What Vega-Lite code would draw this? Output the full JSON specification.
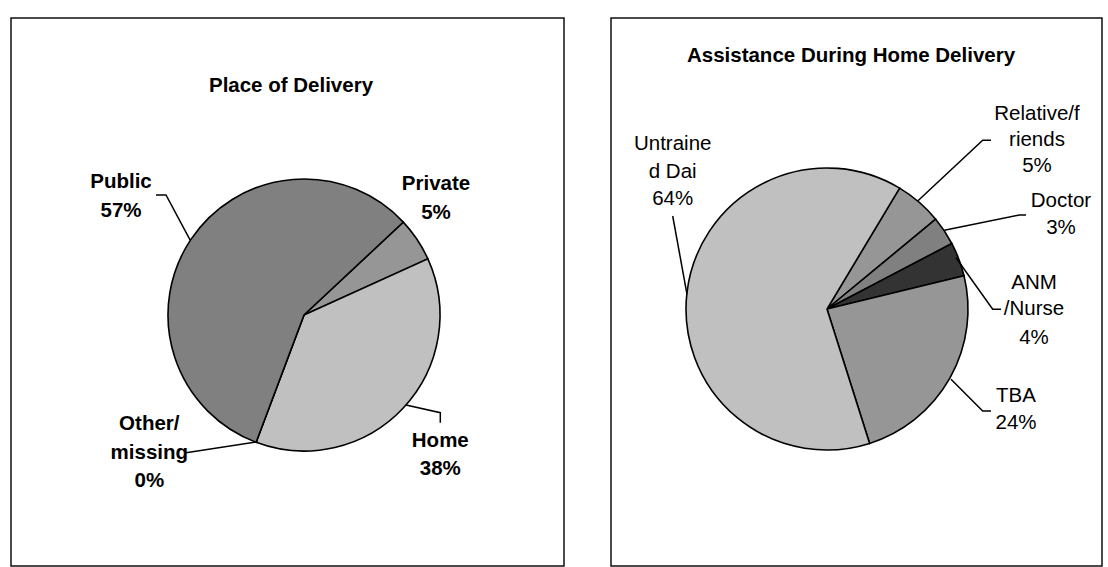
{
  "$schema": "https://vega.github.io/schema/vega-lite/v6.json",
  "padding": {"left": 10, "top": 17, "right": 0, "bottom": 0},
  "background": "white",
  "spacing": 14,
  "bounds": "flush",
  "config": {"view": {"stroke": null}},
  "datasets": {
    "place": [
      {"place": "Private", "pct": 5.2, "k": 1},
      {"place": "Home", "pct": 37.5, "k": 2},
      {"place": "Other/missing", "pct": 0, "k": 3},
      {"place": "Public", "pct": 57.3, "k": 4}
    ],
    "assist": [
      {"who": "Relative/friends", "pct": 5.4, "k": 1},
      {"who": "Doctor", "pct": 3.3, "k": 2},
      {"who": "ANM/Nurse", "pct": 3.9, "k": 3},
      {"who": "TBA", "pct": 23.9, "k": 4},
      {"who": "Untrained Dai", "pct": 63.5, "k": 5}
    ],
    "labL": [
      {"t": "Place of Delivery", "x": 280, "y": 68},
      {"t": "Public", "x": 110, "y": 163.7},
      {"t": "57%", "x": 110, "y": 193},
      {"t": "Private", "x": 425, "y": 166.3},
      {"t": "5%", "x": 425, "y": 194.7},
      {"t": "Other/", "x": 138.3, "y": 406.3},
      {"t": "missing", "x": 138.3, "y": 434.7},
      {"t": "0%", "x": 138.3, "y": 463},
      {"t": "Home", "x": 429.3, "y": 423},
      {"t": "38%", "x": 429.3, "y": 451.3}
    ],
    "titleR": [
      {"t": "Assistance During Home Delivery", "x": 240, "y": 38}
    ],
    "labR": [
      {"t": "Relative/f", "x": 426, "y": 96.3},
      {"t": "riends", "x": 426, "y": 122.3},
      {"t": "5%", "x": 426, "y": 148},
      {"t": "Doctor", "x": 450, "y": 183},
      {"t": "3%", "x": 450, "y": 209.7},
      {"t": "ANM", "x": 423, "y": 264.7},
      {"t": "/Nurse", "x": 423, "y": 291.3},
      {"t": "4%", "x": 423, "y": 319.7},
      {"t": "TBA", "x": 405, "y": 378},
      {"t": "24%", "x": 405, "y": 404.7},
      {"t": "Untraine", "x": 61.7, "y": 126},
      {"t": "d Dai", "x": 61.7, "y": 153.7},
      {"t": "64%", "x": 61.7, "y": 181.3}
    ],
    "lnL": [
      {"g": "a", "o": 1, "x": 145, "y": 177},
      {"g": "a", "o": 2, "x": 155, "y": 177},
      {"g": "a", "o": 3, "x": 179.3, "y": 222.3},
      {"g": "b", "o": 1, "x": 395, "y": 387},
      {"g": "b", "o": 2, "x": 429.3, "y": 394.7},
      {"g": "b", "o": 3, "x": 429.3, "y": 404.7},
      {"g": "c", "o": 1, "x": 175, "y": 434.7},
      {"g": "c", "o": 2, "x": 246.7, "y": 423.7}
    ],
    "lnR": [
      {"g": "u", "o": 1, "x": 61.7, "y": 198},
      {"g": "u", "o": 2, "x": 76, "y": 276.3},
      {"g": "r", "o": 1, "x": 306.7, "y": 183},
      {"g": "r", "o": 2, "x": 371.7, "y": 122.3},
      {"g": "r", "o": 3, "x": 380, "y": 122.3},
      {"g": "d", "o": 1, "x": 333.3, "y": 212.3},
      {"g": "d", "o": 2, "x": 408.3, "y": 197},
      {"g": "d", "o": 3, "x": 415, "y": 197},
      {"g": "n", "o": 1, "x": 345, "y": 239.7},
      {"g": "n", "o": 2, "x": 381.7, "y": 291.3},
      {"g": "n", "o": 3, "x": 390, "y": 291.3},
      {"g": "t", "o": 1, "x": 340, "y": 361.3},
      {"g": "t", "o": 2, "x": 371.7, "y": 393},
      {"g": "t", "o": 3, "x": 380, "y": 393}
    ]
  },
  "hconcat": [
    {
      "width": 586,
      "height": 594,
      "layer": [
        {
          "data": {"values": [{}]},
          "mark": {"type": "rect", "fill": null, "stroke": "#111", "strokeWidth": 1.5},
          "encoding": {
            "x": {"datum": 0, "type": "quantitative", "scale": {"domain": [0, 586], "nice": false, "zero": false}, "axis": null},
            "x2": {"datum": 553},
            "y": {"datum": 0, "type": "quantitative", "scale": {"domain": [0, 594], "nice": false, "zero": false, "reverse": true}, "axis": null},
            "y2": {"datum": 548}
          }
        },
        {
          "data": {"name": "place"},
          "mark": {"type": "arc", "outerRadius": 136, "stroke": "#000", "strokeWidth": 1.6},
          "encoding": {
            "theta": {"field": "pct", "type": "quantitative", "stack": true, "scale": {"domain": [0, 100], "range": [0.8186, 7.1018]}},
            "order": {"field": "k", "type": "quantitative"},
            "color": {"field": "place", "type": "nominal", "legend": null,
              "scale": {"domain": ["Private", "Home", "Other/missing", "Public"], "range": ["#969696", "#c0c0c0", "#ffffff", "#808080"]}}
          }
        },
        {
          "data": {"name": "lnL"},
          "mark": {"type": "line", "color": "#000", "strokeWidth": 1.5},
          "encoding": {
            "x": {"field": "x", "type": "quantitative", "scale": {"domain": [0, 586], "nice": false, "zero": false}, "axis": null},
            "y": {"field": "y", "type": "quantitative", "scale": {"domain": [0, 594], "nice": false, "zero": false, "reverse": true}, "axis": null},
            "detail": {"field": "g", "type": "nominal"},
            "order": {"field": "o", "type": "quantitative"}
          }
        },
        {
          "data": {"name": "labL"},
          "mark": {"type": "text", "font": "Liberation Sans", "fontSize": 20.5, "fontWeight": "bold", "align": "center", "baseline": "middle", "color": "#000"},
          "encoding": {
            "x": {"field": "x", "type": "quantitative", "scale": {"domain": [0, 586], "nice": false, "zero": false}, "axis": null},
            "y": {"field": "y", "type": "quantitative", "scale": {"domain": [0, 594], "nice": false, "zero": false, "reverse": true}, "axis": null},
            "text": {"field": "t", "type": "nominal"}
          }
        }
      ]
    },
    {
      "width": 432,
      "height": 582,
      "layer": [
        {
          "data": {"values": [{}]},
          "mark": {"type": "rect", "fill": null, "stroke": "#111", "strokeWidth": 1.5},
          "encoding": {
            "x": {"datum": 0, "type": "quantitative", "scale": {"domain": [0, 432], "nice": false, "zero": false}, "axis": null},
            "x2": {"datum": 491},
            "y": {"datum": 0, "type": "quantitative", "scale": {"domain": [0, 582], "nice": false, "zero": false, "reverse": true}, "axis": null},
            "y2": {"datum": 548}
          }
        },
        {
          "data": {"name": "assist"},
          "mark": {"type": "arc", "outerRadius": 141, "stroke": "#000", "strokeWidth": 1.6},
          "encoding": {
            "theta": {"field": "pct", "type": "quantitative", "stack": true, "scale": {"domain": [0, 100], "range": [0.5411, 6.8243]}},
            "order": {"field": "k", "type": "quantitative"},
            "color": {"field": "who", "type": "nominal", "legend": null,
              "scale": {"domain": ["Relative/friends", "Doctor", "ANM/Nurse", "TBA", "Untrained Dai"], "range": ["#969696", "#808080", "#333333", "#969696", "#c0c0c0"]}}
          }
        },
        {
          "data": {"name": "lnR"},
          "mark": {"type": "line", "color": "#000", "strokeWidth": 1.5},
          "encoding": {
            "x": {"field": "x", "type": "quantitative", "scale": {"domain": [0, 432], "nice": false, "zero": false}, "axis": null},
            "y": {"field": "y", "type": "quantitative", "scale": {"domain": [0, 582], "nice": false, "zero": false, "reverse": true}, "axis": null},
            "detail": {"field": "g", "type": "nominal"},
            "order": {"field": "o", "type": "quantitative"}
          }
        },
        {
          "data": {"name": "titleR"},
          "mark": {"type": "text", "font": "Liberation Sans", "fontSize": 20.5, "fontWeight": "bold", "align": "center", "baseline": "middle", "color": "#000"},
          "encoding": {
            "x": {"field": "x", "type": "quantitative", "scale": {"domain": [0, 432], "nice": false, "zero": false}, "axis": null},
            "y": {"field": "y", "type": "quantitative", "scale": {"domain": [0, 582], "nice": false, "zero": false, "reverse": true}, "axis": null},
            "text": {"field": "t", "type": "nominal"}
          }
        },
        {
          "data": {"name": "labR"},
          "mark": {"type": "text", "font": "Liberation Sans", "fontSize": 20.5, "align": "center", "baseline": "middle", "color": "#000"},
          "encoding": {
            "x": {"field": "x", "type": "quantitative", "scale": {"domain": [0, 432], "nice": false, "zero": false}, "axis": null},
            "y": {"field": "y", "type": "quantitative", "scale": {"domain": [0, 582], "nice": false, "zero": false, "reverse": true}, "axis": null},
            "text": {"field": "t", "type": "nominal"}
          }
        }
      ],
      "resolve": {"scale": {"x": "shared", "y": "shared"}}
    }
  ],
  "resolve": {"scale": {"x": "independent", "y": "independent", "color": "independent", "theta": "independent"}}
}
